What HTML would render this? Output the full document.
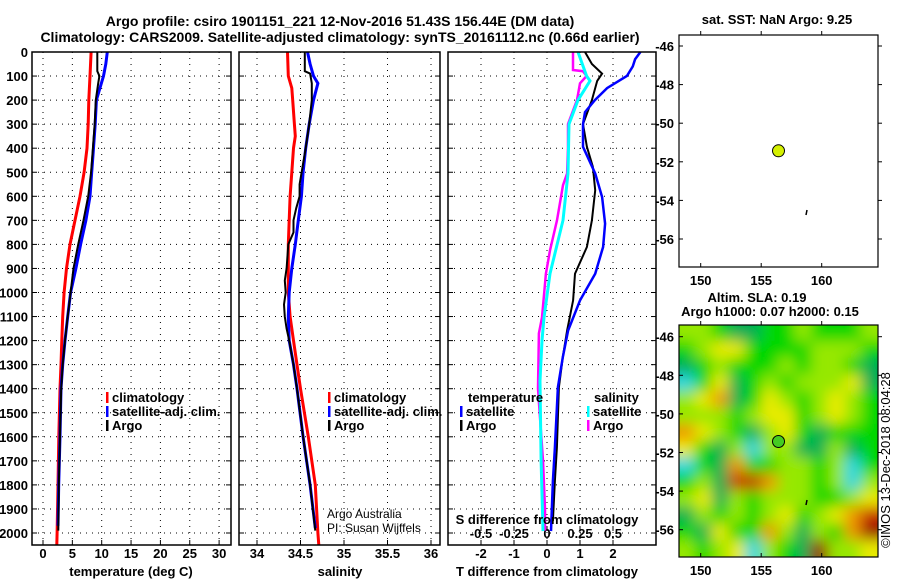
<!DOCTYPE html>
<html><head><meta charset="utf-8"><title>Argo profile</title>
<style>
html,body{margin:0;padding:0;background:#fff;}
svg{display:block;font-family:"Liberation Sans",Arial,sans-serif;}
</style></head>
<body>
<svg id="chart" width="900" height="580" viewBox="0 0 900 580" xmlns="http://www.w3.org/2000/svg">
<defs>
<filter id="blur" x="-10%" y="-10%" width="120%" height="120%"><feGaussianBlur stdDeviation="7"/></filter>
<clipPath id="mapclip"><rect x="679" y="325" width="199" height="232"/></clipPath>
</defs>
<text font-weight="bold" x="340" y="26" font-size="14" text-anchor="middle">Argo profile: csiro 1901151_221 12-Nov-2016 51.43S 156.44E (DM data)</text>
<text font-weight="bold" x="340" y="42" font-size="14" text-anchor="middle">Climatology: CARS2009. Satellite-adjusted climatology: synTS_20161112.nc (0.66d earlier)</text>
<g id="layer"></g>
</svg>
<script>
// ---- data ----
var depthTicks = [0,100,200,300,400,500,600,700,800,900,1000,1100,1200,1300,1400,1500,1600,1700,1800,1900,2000];
var tempTicks = [0,5,10,15,20,25,30];
var salTicks = [34,34.5,35,35.5,36];
var salTickLabels = ["34","34.5","35","35.5","36"];
var tdiffTicks = [-2,-1,0,1,2];
var sdiffTicks = [-0.5,-0.25,0,0.25,0.5];
var sdiffTickLabels = ["-0.5","-0.25","0","0.25","0.5"];

var tClimDepth = [0,100,200,300,400,500,600,700,800,900,1000,1100,1200,1300,1400,1600,1800,2000,2050];
var tClim      = [8.2,8.0,7.8,7.7,7.5,7.0,6.3,5.45,4.6,4.0,3.6,3.35,3.2,3.07,2.9,2.7,2.55,2.4,2.35];
var tSatDepth  = [0,50,100,200,300,400,500,600,700,800,900,1000,1100,1200,1300,1400,1600,1800,1970];
var tSat       = [10.96,10.7,10.3,9.1,8.9,8.6,8.3,8.0,7.3,6.4,5.6,4.7,4.2,3.75,3.35,3.07,2.9,2.67,2.55];
var tArgoDepth = [0,80,100,130,200,300,400,500,600,700,800,900,1000,1100,1200,1300,1400,1600,1800,1990];
var tArgo      = [9.25,9.25,9.6,9.4,9.0,8.8,8.5,8.2,7.7,6.9,6.0,5.2,4.7,4.2,3.75,3.35,3.1,2.9,2.7,2.6];

var sClimDepth = [0,100,150,200,300,350,400,500,600,700,800,900,1000,1100,1200,1300,1400,1600,1800,2000,2050];
var sClim      = [34.35,34.36,34.40,34.41,34.43,34.44,34.42,34.40,34.38,34.37,34.36,34.36,34.36,34.38,34.42,34.46,34.50,34.59,34.67,34.70,34.71];
var sSatDepth  = [0,50,100,130,200,300,400,500,600,700,800,900,1000,1100,1200,1300,1400,1600,1800,1980];
var sSat       = [34.58,34.61,34.65,34.70,34.65,34.60,34.56,34.53,34.51,34.475,34.44,34.40,34.37,34.36,34.37,34.42,34.46,34.53,34.61,34.67];
var sArgoDepth = [0,80,90,130,200,300,400,550,600,650,700,750,800,900,950,1000,1050,1100,1150,1200,1300,1400,1600,1800,1990];
var sArgo      = [34.55,34.55,34.61,34.63,34.63,34.60,34.56,34.49,34.49,34.45,34.42,34.42,34.36,34.34,34.32,34.33,34.31,34.32,34.34,34.37,34.42,34.46,34.53,34.61,34.67];

var dTSatDepth  = [0,30,60,100,150,200,250,300,394,505,603,714,811,922,1033,1158,1269,1394,1644,1783,1992];
var dTSat       = [2.83,2.67,2.6,2.42,1.82,1.45,1.15,1.09,1.09,1.46,1.67,1.76,1.70,1.46,1.0,0.64,0.48,0.33,0.24,0.18,0.12];
var dTArgoDepth = [0,50,90,120,200,300,394,478,575,700,811,922,1033,1158,1269,1394,1644,1783,1950];
var dTArgo      = [1.15,1.36,1.67,1.52,1.36,1.09,1.21,1.39,1.46,1.36,1.21,0.85,0.79,0.61,0.48,0.36,0.30,0.24,0.18];
var dSSatDepth  = [0,100,120,200,300,505,700,922,1104,1200,1367,1700,1992];
var dSSat       = [0.235,0.30,0.326,0.235,0.167,0.159,0.121,0.023,-0.023,-0.038,-0.053,-0.045,-0.03];
var dSArgoDepth = [0,75,80,100,130,200,300,400,505,554,700,825,922,1104,1170,1400,1700,1900,1990];
var dSArgo      = [0.197,0.197,0.273,0.30,0.25,0.227,0.159,0.159,0.152,0.121,0.076,0.023,-0.008,-0.038,-0.061,-0.068,-0.03,-0.015,-0.015];

var mapLonTicks = [150,155,160];
var mapLatTicks = [-46,-48,-50,-52,-54,-56];
var argoLon = 156.43, argoLat = -51.43;
var slaGrid = [
 [1,1,0,-1,-1,0,0,1,0,0,0,1],
 [0,1,2,2,0,0,0,0,1,1,1,0],
 [-1,0,1,0,0,0,1,0,1,1,0,-1],
 [-2,0,2,-1,0,1,0,1,1,1,2,-1],
 [1,2,3,-1,0,2,1,0,1,2,1,0],
 [1,1,1,0,1,2,2,0,1,2,1,0],
 [3,2,1,0,-1,1,2,0,-1,0,0,0],
 [2,0,-1,1,-2,1,1,-1,-1,1,-1,0],
 [-2,0,-1,3,0,0,1,1,0,1,-2,0],
 [0,1,-1,4,4,3,1,1,0,1,-2,1],
 [1,2,-1,1,0,1,1,1,0,0,1,2],
 [-1,1,0,1,0,1,2,0,1,2,3,4],
 [0,-1,2,0,0,3,1,-1,1,0,3,5],
 [1,0,1,2,-2,1,0,-1,5,1,1,2]
];

// ---- drawing ----
var NS="http://www.w3.org/2000/svg";
var layer=document.getElementById('layer');
function mk(tag,attrs,parent){var e=document.createElementNS(NS,tag);for(var k in attrs)e.setAttribute(k,attrs[k]);(parent||layer).appendChild(e);return e;}
function txt(x,y,s,size,anchor,bold,parent){var t=mk('text',{x:x,y:y,'font-size':size,'text-anchor':anchor||'start'},parent);if(bold)t.setAttribute('font-weight','bold');t.textContent=s;return t;}

var TOP=52, PXD=0.2405, BOT=545;
function yD(d){return TOP+d*PXD;}
function xT(v){return 43+(v-0)*5.87;}
function xS(v){return 257+(v-34)*87;}
function xDT(v){return 547+v*33;}
function xDS(v){return 547+v*132;}

var panels=[{x0:32,x1:231,name:'temperature-panel'},{x0:239,x1:440,name:'salinity-panel'},{x0:448,x1:656,name:'difference-panel'}];
panels.forEach(function(p,i){
  var g=mk('g',{});
  
  
  depthTicks.forEach(function(d){
    var l=mk('line',{x1:p.x0,x2:p.x1,y1:yD(d),y2:yD(d),stroke:'#000','stroke-width':1,'stroke-dasharray':'1,5'},g);
    
    
    mk('line',{x1:p.x0,x2:p.x0+5,y1:yD(d),y2:yD(d),stroke:'#000'},g);
    mk('line',{x1:p.x1-5,x2:p.x1,y1:yD(d),y2:yD(d),stroke:'#000'},g);
  });
  var xs = i==0?tempTicks.map(xT):(i==1?salTicks.map(xS):tdiffTicks.map(xDT));
  xs.forEach(function(x){
    var l=mk('line',{x1:x,x2:x,y1:TOP,y2:BOT,stroke:'#000','stroke-width':1,'stroke-dasharray':'1,5'},g);
    
    
    mk('line',{x1:x,x2:x,y1:BOT-5,y2:BOT,stroke:'#000'},g);
  });
});

depthTicks.forEach(function(d){
  var t=txt(28,yD(d)+5,String(d),13,'end',true);
  
  
});
tempTicks.forEach(function(v){var t=txt(xT(v),558,String(v),13,'middle',true);
  
  });
salTicks.forEach(function(v,i){var t=txt(xS(v),558,salTickLabels[i],13,'middle',true);
  
  });
tdiffTicks.forEach(function(v){var t=txt(xDT(v),558,String(v),13,'middle',true);
  
  });
sdiffTicks.forEach(function(v,i){
  var t=txt(xDS(v),538,sdiffTickLabels[i],13,'middle',true);
  
  
  mk('line',{x1:xDS(v),x2:xDS(v),y1:527,y2:531,stroke:'#000'});
});
var a1=txt(131,576,'temperature (deg C)',13,'middle',true);


var a2=txt(340,576,'salinity',13,'middle',true);


var a3=txt(547,576,'T difference from climatology',13,'middle',true);



function series(depths,vals,xf,color,w,name){
  var pts=depths.map(function(d,i){return xf(vals[i]).toFixed(1)+','+yD(d).toFixed(1);}).join(' ');
  var p=mk('polyline',{points:pts,fill:'none',stroke:color,'stroke-width':w,'stroke-linejoin':'miter'});
  
  
}
series(tClimDepth,tClim,xT,'#ff0000',3,'temperature-climatology-line');
series(tSatDepth,tSat,xT,'#0000ff',3,'temperature-satellite-line');
series(tArgoDepth,tArgo,xT,'#000',2,'temperature-argo-line');
series(sClimDepth,sClim,xS,'#ff0000',3,'salinity-climatology-line');
series(sSatDepth,sSat,xS,'#0000ff',3,'salinity-satellite-line');
series(sArgoDepth,sArgo,xS,'#000',2,'salinity-argo-line');
series(dSArgoDepth,dSArgo,xDS,'#ff00ff',2.5,'s-diff-argo-line');
series(dSSatDepth,dSSat,xDS,'#00ffff',3,'s-diff-satellite-line');
series(dTArgoDepth,dTArgo,xDT,'#000',2,'t-diff-argo-line');
series(dTSatDepth,dTSat,xDT,'#0000ff',2.5,'t-diff-satellite-line');

var a4=txt(547,524,'S difference from climatology',13,'middle',true);



panels.forEach(function(p){
  var r=mk('rect',{x:p.x0,y:TOP,width:p.x1-p.x0,height:BOT-TOP,fill:'none',stroke:'#000','stroke-width':1.5});
  
  
});

function legend(x,y,color,label,name){
  var g=mk('g',{});
  
  
  mk('rect',{x:x,y:y-10,width:2.5,height:11,fill:color},g);
  txt(x+6,y,label,13,'start',true,g);
}
legend(106,402,'#ff0000','climatology','legend-climatology');
legend(106,416,'#0000ff','satellite-adj. clim.','legend-satellite-adj');
legend(106,430,'#000','Argo','legend-argo');
legend(328,402,'#ff0000','climatology','legend-climatology-sal');
legend(328,416,'#0000ff','satellite-adj. clim.','legend-satellite-adj-sal');
legend(328,430,'#000','Argo','legend-argo-sal');
var lt=txt(468,402,'temperature',13,'start',true);


var ls=txt(594,402,'salinity',13,'start',true);


legend(460,416,'#0000ff','satellite','legend-t-satellite');
legend(460,430,'#000','Argo','legend-t-argo');
legend(587,416,'#00ffff','satellite','legend-s-satellite');
legend(587,430,'#ff00ff','Argo','legend-s-argo');
var c1=txt(327,518,'Argo Australia',12,'start',false);


var c2=txt(327,532,'PI: Susan Wijffels',12,'start',false);



// ---- maps ----
var MX0=679, MX1=878;
function xLon(l){return 700.7+(l-150)*12.1;}
function map(y0,y1,lat46y,name){
  function yLat(l){return lat46y+(-46-l)*19.3;}
  var g=mk('g',{});
  
  
  mapLonTicks.forEach(function(l){
    mk('line',{x1:xLon(l),x2:xLon(l),y1:y0-4,y2:y0,stroke:'#000'},g);
    mk('line',{x1:xLon(l),x2:xLon(l),y1:y1,y2:y1-4,stroke:'#000'},g);
    var t=txt(xLon(l),y1+18,String(l),13,'middle',true,g);
    
    
  });
  mapLatTicks.forEach(function(l){
    mk('line',{x1:MX0,x2:MX0+4,y1:yLat(l),y2:yLat(l),stroke:'#000'},g);
    mk('line',{x1:MX1,x2:MX1+4,y1:yLat(l),y2:yLat(l),stroke:'#000'},g);
    var t=txt(674,yLat(l)+5,String(l),13,'end',true,g);
    
    
  });
  return {g:g,yLat:yLat};
}
var m1=map(35,267,46,'sst-map');
mk('rect',{x:MX0,y:35,width:MX1-MX0,height:232,fill:'none',stroke:'#000','stroke-width':1.2},m1.g);
var d1=mk('circle',{cx:xLon(argoLon),cy:m1.yLat(argoLat),r:6,fill:'#d4f000',stroke:'#000','stroke-width':1});


mk('line',{x1:807,x2:806,y1:210,y2:215,stroke:'#000','stroke-width':1.5});
var st=txt(777,24,'sat. SST: NaN Argo: 9.25',13,'middle',true);


var s1=txt(757,302,'Altim. SLA: 0.19',13,'middle',true);


var s2=txt(770,316,'Argo h1000: 0.07 h2000: 0.15',13,'middle',true);



var m2=map(325,557,336.7,'sla-map');
function cmap(v){
  var stops=[[-2,[40,215,225]],[-1,[0,175,85]],[0,[0,215,0]],[1,[150,232,0]],[2,[235,235,0]],[3,[240,150,0]],[4,[200,50,0]],[5,[150,10,0]]];
  for(var i=0;i<stops.length-1;i++){if(v<=stops[i+1][0]){var a=stops[i],b=stops[i+1],t=(v-a[0])/(b[0]-a[0]);
    return 'rgb('+a[1].map(function(c,k){return Math.round(c+(b[1][k]-c)*t);}).join(',')+')';}}
  return 'rgb(150,10,0)';
}
var hg=mk('g',{'clip-path':'url(#mapclip)'});


mk('rect',{x:MX0,y:325,width:MX1-MX0,height:232,fill:'#00d400'},hg);
var hb=mk('g',{filter:'url(#blur)'},hg);
var nr=slaGrid.length,nc=slaGrid[0].length,cw=(MX1-MX0)/nc,ch=232/nr;
slaGrid.forEach(function(row,r){row.forEach(function(v,c){
  var x=MX0+c*cw-0.5, y=325+r*ch-0.5, w=cw+1, h=ch+1;
  if(c==0){x-=12;w+=12;} if(c==nc-1){w+=12;}
  if(r==0){y-=12;h+=12;} if(r==nr-1){h+=12;}
  var cell=mk('rect',{x:x,y:y,width:w,height:h,fill:cmap(v)},hb);
  
  
});});
layer.appendChild(m2.g);
mk('rect',{x:MX0,y:325,width:MX1-MX0,height:232,fill:'none',stroke:'#000','stroke-width':1.2},m2.g);
var d2=mk('circle',{cx:xLon(argoLon),cy:m2.yLat(argoLat),r:6,fill:'#44cc22',stroke:'#000','stroke-width':1});


mk('line',{x1:807,x2:806,y1:500,y2:505,stroke:'#000','stroke-width':1.5});
var im=txt(0,0,'©IMOS 13-Dec-2018 08:04:28',13,'middle',false);
im.setAttribute('transform','translate(890,460) rotate(-90)');


</script>
</body></html>
